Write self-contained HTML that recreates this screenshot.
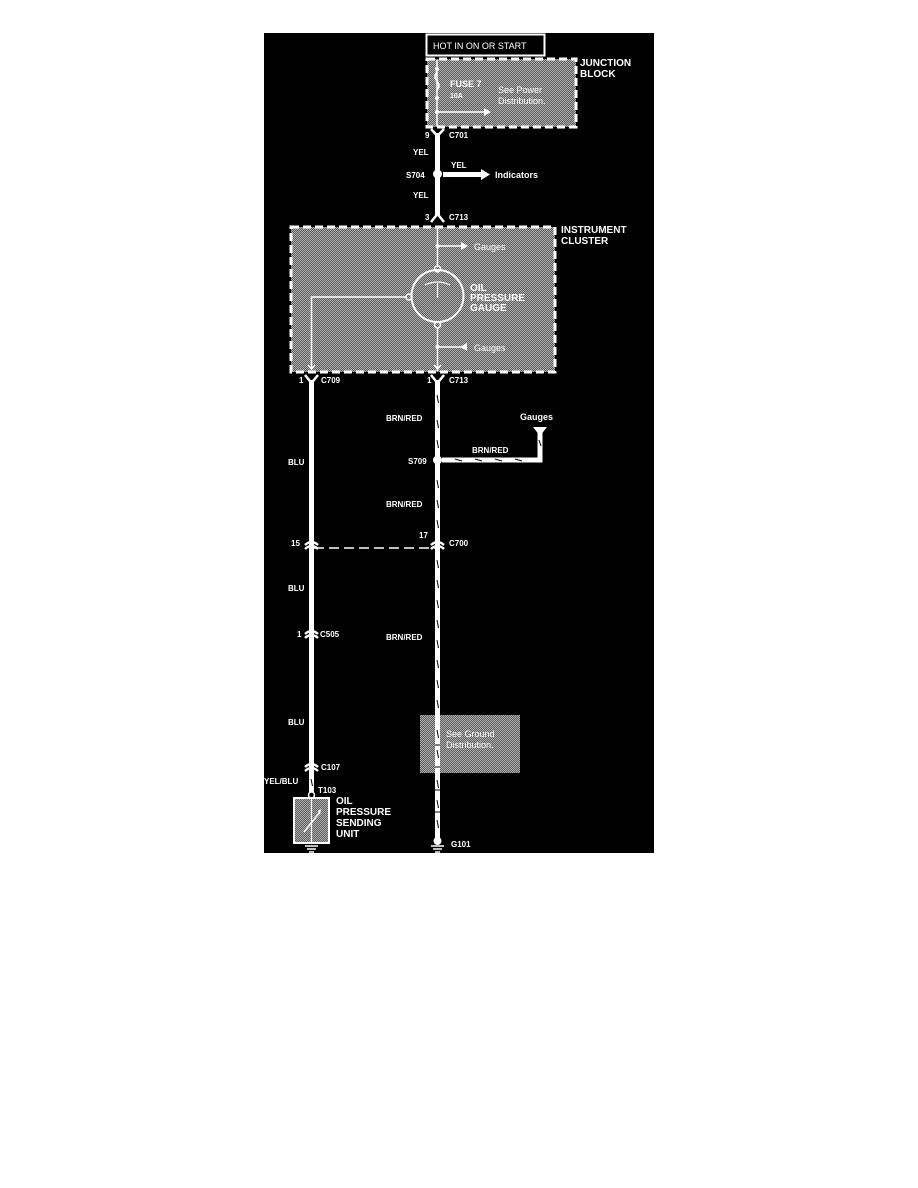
<!DOCTYPE html>
<html><head><meta charset="utf-8"><style>
html,body{margin:0;padding:0;background:#fff;}
svg{display:block;}
text{font-family:"Liberation Sans",Arial,sans-serif;fill:#fff;font-weight:bold;}
</style></head><body>
<svg width="918" height="1188" viewBox="0 0 918 1188" xmlns="http://www.w3.org/2000/svg">
<defs>
<pattern id="dith" width="2" height="2" patternUnits="userSpaceOnUse">
<rect width="2" height="2" fill="#5a5a5a"/><rect width="1" height="1" fill="#b0b0b0"/><rect x="1" y="1" width="1" height="1" fill="#b0b0b0"/>
</pattern>
</defs>
<rect x="264" y="33" width="390" height="820" fill="#000"/>

<!-- top label -->
<rect x="426.5" y="34.5" width="118" height="21" fill="#000" stroke="#fff" stroke-width="2"/>
<text x="433" y="49" font-size="9" font-weight="normal" style="font-weight:normal">HOT IN ON OR START</text>

<!-- junction block -->
<rect x="427" y="59" width="149" height="68" fill="url(#dith)" stroke="#fff" stroke-width="3" stroke-dasharray="8,4"/>
<text x="580" y="66" font-size="10">JUNCTION</text>
<text x="580" y="77" font-size="10">BLOCK</text>
<line x1="437" y1="60" x2="437" y2="126" stroke="#fff" stroke-width="1.5"/>
<path d="M437 72 q-4 5 0 9 q4 5 0 9" fill="none" stroke="#fff" stroke-width="1.5"/>
<circle cx="437" cy="69" r="2" fill="#fff"/><circle cx="437" cy="98" r="2" fill="#fff"/><circle cx="437" cy="112" r="2" fill="#fff"/>
<line x1="437" y1="112" x2="484" y2="112" stroke="#fff" stroke-width="1.5"/>
<polygon points="484,108 491,112 484,116" fill="#fff"/>
<text x="450" y="87" font-size="9">FUSE 7</text>
<text x="450" y="98" font-size="7">10A</text>
<text x="498" y="93" font-size="9" font-weight="normal" style="font-weight:normal">See Power</text>
<text x="498" y="104" font-size="9" font-weight="normal" style="font-weight:normal">Distribution.</text>

<!-- top wires -->
<rect x="435" y="133" width="5" height="83" fill="#fff"/>
<path d="M431 129 L437.5 136 L444 129" fill="none" stroke="#fff" stroke-width="2.5"/>
<text x="425" y="138" font-size="8">9</text><text x="449" y="138" font-size="8">C701</text>
<text x="413" y="155" font-size="8">YEL</text>
<circle cx="437.5" cy="174" r="4.5" fill="#fff"/>
<text x="406" y="178" font-size="8">S704</text>
<rect x="443" y="172" width="38" height="5" fill="#fff"/>
<polygon points="481,169 490,174.5 481,180" fill="#fff"/>
<text x="451" y="168" font-size="8">YEL</text>
<text x="495" y="178" font-size="9">Indicators</text>
<text x="413" y="198" font-size="8">YEL</text>
<path d="M431 222 L437.5 214 L444 222" fill="none" stroke="#fff" stroke-width="2.5"/>
<text x="425" y="220" font-size="8">3</text><text x="449" y="220" font-size="8">C713</text>

<!-- instrument cluster -->
<rect x="291" y="227" width="264" height="145" fill="url(#dith)" stroke="#fff" stroke-width="3" stroke-dasharray="8,4"/>
<text x="561" y="233" font-size="10">INSTRUMENT</text>
<text x="561" y="244" font-size="10">CLUSTER</text>
<line x1="437.5" y1="228" x2="437.5" y2="267" stroke="#fff" stroke-width="1.5"/>
<circle cx="437.5" cy="246" r="2" fill="#fff"/>
<line x1="437.5" y1="246" x2="462" y2="246" stroke="#fff" stroke-width="1.5"/>
<polygon points="461,242 468,246 461,250" fill="#fff"/>
<text x="474" y="250" font-size="9" font-weight="normal" style="font-weight:normal">Gauges</text>
<circle cx="437.5" cy="269" r="3" fill="none" stroke="#fff" stroke-width="1.5"/>
<circle cx="437.5" cy="296" r="26" fill="none" stroke="#fff" stroke-width="2"/>
<path d="M425 285 q12.5 -6 25 0" fill="none" stroke="#fff" stroke-width="1.2"/>
<line x1="437.5" y1="283" x2="437.5" y2="298" stroke="#fff" stroke-width="1.2"/>
<circle cx="409" cy="297" r="3" fill="none" stroke="#fff" stroke-width="1.5"/>
<text x="470" y="291" font-size="10">OIL</text>
<text x="470" y="301" font-size="10">PRESSURE</text>
<text x="470" y="311" font-size="10">GAUGE</text>
<circle cx="437.5" cy="325" r="3" fill="none" stroke="#fff" stroke-width="1.5"/>
<line x1="437.5" y1="328" x2="437.5" y2="371" stroke="#fff" stroke-width="1.5"/>
<circle cx="437.5" cy="347" r="2" fill="#fff"/>
<line x1="437.5" y1="347" x2="466" y2="347" stroke="#fff" stroke-width="1.5"/>
<polygon points="467,343 460,347 467,351" fill="#fff"/>
<text x="474" y="351" font-size="9" font-weight="normal" style="font-weight:normal">Gauges</text>
<polyline points="406,297 311.5,297 311.5,369" fill="none" stroke="#fff" stroke-width="1.5"/>
<path d="M308 365 L311.5 369 L315 365" fill="none" stroke="#fff" stroke-width="1.5"/>
<path d="M434 365 L437.5 369 L441 365" fill="none" stroke="#fff" stroke-width="1.5"/>

<!-- lower left wire -->
<rect x="309" y="380" width="5" height="410" fill="#fff"/>
<path d="M305 375 L311.5 383 L318 375" fill="none" stroke="#fff" stroke-width="2.5"/>
<text x="299" y="383" font-size="8">1</text><text x="321" y="383" font-size="8">C709</text>
<text x="288" y="465" font-size="8">BLU</text>

<!-- lower right wire -->
<rect x="435" y="380" width="5" height="460" fill="#fff"/>
<path d="M431 375 L437.5 383 L444 375" fill="none" stroke="#fff" stroke-width="2.5"/>
<text x="427" y="383" font-size="8">1</text><text x="449" y="383" font-size="8">C713</text>
<g stroke="#000" stroke-width="1">
<line x1="437" y1="395" x2="438.5" y2="403"/><line x1="437" y1="420" x2="438.5" y2="428"/><line x1="437" y1="440" x2="438.5" y2="448"/>
<line x1="437" y1="480" x2="438.5" y2="488"/><line x1="437" y1="500" x2="438.5" y2="508"/><line x1="437" y1="520" x2="438.5" y2="528"/>
<line x1="437" y1="560" x2="438.5" y2="568"/><line x1="437" y1="580" x2="438.5" y2="588"/><line x1="437" y1="600" x2="438.5" y2="608"/>
<line x1="437" y1="620" x2="438.5" y2="628"/><line x1="437" y1="640" x2="438.5" y2="648"/><line x1="437" y1="660" x2="438.5" y2="668"/>
<line x1="437" y1="680" x2="438.5" y2="688"/><line x1="437" y1="700" x2="438.5" y2="708"/><line x1="437" y1="720" x2="438.5" y2="728"/>
<line x1="437" y1="740" x2="438.5" y2="748"/><line x1="437" y1="760" x2="438.5" y2="768"/><line x1="437" y1="780" x2="438.5" y2="788"/>
<line x1="437" y1="800" x2="438.5" y2="808"/><line x1="437" y1="820" x2="438.5" y2="828"/>
</g>
<text x="386" y="421" font-size="8">BRN/RED</text>
<circle cx="437.5" cy="460" r="4.5" fill="#fff"/>
<text x="408" y="464" font-size="8">S709</text>
<polyline points="442,460 540,460 540,432" fill="none" stroke="#fff" stroke-width="5"/>
<g stroke="#000" stroke-width="1"><line x1="455" y1="459" x2="462" y2="461"/><line x1="475" y1="459" x2="482" y2="461"/><line x1="495" y1="459" x2="502" y2="461"/><line x1="515" y1="459" x2="522" y2="461"/><line x1="539" y1="440" x2="541" y2="446"/></g>
<polygon points="533,427 547,427 540,436" fill="#fff"/>
<text x="520" y="420" font-size="9">Gauges</text>
<text x="472" y="453" font-size="8">BRN/RED</text>
<text x="386" y="507" font-size="8">BRN/RED</text>

<!-- C700 -->
<line x1="314" y1="548" x2="435" y2="548" stroke="#fff" stroke-width="1.5" stroke-dasharray="10,5"/>
<g fill="none" stroke="#fff" stroke-width="2.5">
<path d="M305 545 q6.5 -6 13 0"/><path d="M305 549 q6.5 -6 13 0"/>
<path d="M431 545 q6.5 -6 13 0"/><path d="M431 549 q6.5 -6 13 0"/>
</g>
<text x="291" y="546" font-size="8">15</text>
<text x="419" y="538" font-size="8">17</text>
<text x="449" y="546" font-size="8">C700</text>
<text x="288" y="591" font-size="8">BLU</text>
<g fill="none" stroke="#fff" stroke-width="2.5"><path d="M305 634 q6.5 -6 13 0"/><path d="M305 638 q6.5 -6 13 0"/></g>
<text x="297" y="637" font-size="8">1</text><text x="320" y="637" font-size="8">C505</text>
<text x="386" y="640" font-size="8">BRN/RED</text>
<text x="288" y="725" font-size="8">BLU</text>

<!-- ground distribution -->
<rect x="420" y="715" width="100" height="58" fill="url(#dith)"/>
<rect x="435" y="715" width="5" height="58" fill="#fff"/>
<g stroke="#000" stroke-width="1"><line x1="437" y1="730" x2="438.5" y2="738"/><line x1="437" y1="750" x2="438.5" y2="758"/><line x1="435" y1="745" x2="440" y2="745"/><line x1="435" y1="767" x2="440" y2="767"/></g>
<text x="446" y="737" font-size="9" font-weight="normal" style="font-weight:normal">See Ground</text>
<text x="446" y="748" font-size="9" font-weight="normal" style="font-weight:normal">Distribution.</text>
<line x1="435" y1="790" x2="440" y2="790" stroke="#000" stroke-width="1"/>
<line x1="435" y1="812" x2="440" y2="812" stroke="#000" stroke-width="1"/>

<!-- C107 & sensor -->
<g fill="none" stroke="#fff" stroke-width="2.5"><path d="M305 767 q6.5 -6 13 0"/><path d="M305 771 q6.5 -6 13 0"/></g>
<text x="321" y="770" font-size="8">C107</text>
<rect x="309" y="772" width="5" height="23" fill="#fff"/>
<line x1="311" y1="779" x2="312.5" y2="786" stroke="#000" stroke-width="1"/>
<text x="264" y="784" font-size="8">YEL/BLU</text>
<circle cx="311.5" cy="795" r="3" fill="#000" stroke="#fff" stroke-width="1.5"/>
<text x="318" y="793" font-size="8">T103</text>
<rect x="294" y="798" width="35" height="45" fill="url(#dith)" stroke="#fff" stroke-width="2"/>
<line x1="311.5" y1="798" x2="311.5" y2="843" stroke="#fff" stroke-width="1.2"/>
<line x1="304" y1="832" x2="320" y2="812" stroke="#fff" stroke-width="1.5"/>
<polygon points="318,811 321,809 320,815" fill="#fff"/>
<text x="336" y="804" font-size="10">OIL</text>
<text x="336" y="815" font-size="10">PRESSURE</text>
<text x="336" y="826" font-size="10">SENDING</text>
<text x="336" y="837" font-size="10">UNIT</text>
<g stroke="#fff" stroke-width="1.5"><line x1="305" y1="846" x2="318" y2="846"/><line x1="307" y1="849" x2="316" y2="849"/><line x1="309" y1="852" x2="314" y2="852"/></g>

<!-- G101 -->
<circle cx="437.5" cy="841" r="4" fill="#fff"/>
<g stroke="#fff" stroke-width="1.5"><line x1="431" y1="846" x2="444" y2="846"/><line x1="433" y1="849" x2="442" y2="849"/><line x1="435" y1="852" x2="440" y2="852"/></g>
<text x="451" y="847" font-size="8">G101</text>
</svg>
</body></html>
